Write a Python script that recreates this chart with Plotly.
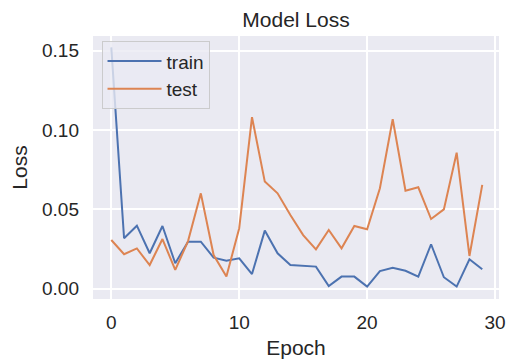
import plotly.graph_objects as go

epochs = list(range(30))
train_loss = [0.152, 0.0317, 0.0396, 0.0222, 0.0394, 0.0159, 0.0295, 0.0295, 0.0194, 0.0175,
              0.0190, 0.0091, 0.0365, 0.0222, 0.0148, 0.0142, 0.0138, 0.0016, 0.0075, 0.0075,
              0.0012, 0.0110, 0.0131, 0.0112, 0.0075, 0.0279, 0.0071, 0.0012, 0.0184, 0.0121]
test_loss = [0.0306, 0.0216, 0.0253, 0.0148, 0.0312, 0.0117, 0.0299, 0.0600, 0.0211, 0.0075,
             0.0380, 0.1080, 0.0674, 0.0600, 0.0463, 0.0337, 0.0247, 0.0369, 0.0253, 0.0394,
             0.0373, 0.0632, 0.1067, 0.0617, 0.0638, 0.0438, 0.0499, 0.0856, 0.0205, 0.0653]
x_ticks = [0, 10, 20, 30]
y_ticks = [0.00, 0.05, 0.10, 0.15]
y_tick_labels = ["0.00", "0.05", "0.10", "0.15"]

FONT = "Arial, Liberation Sans, Helvetica, sans-serif"
TXT = "#262626"

fig = go.Figure()
fig.add_trace(go.Scatter(x=epochs, y=train_loss, mode="lines", name="train",
                         line=dict(color="#4c72b0", width=2)))
fig.add_trace(go.Scatter(x=epochs, y=test_loss, mode="lines", name="test",
                         line=dict(color="#dd8452", width=2)))

fig.update_layout(
    width=510, height=359,
    margin=dict(l=93, r=11, t=36, b=60, autoexpand=False),
    paper_bgcolor="white",
    plot_bgcolor="#eaeaf2",
    font=dict(family=FONT, color=TXT, size=19),
    title=dict(text="Model Loss", x=0.5, xref="paper", xanchor="center",
               y=1 - 19.5 / 359, yref="container", yanchor="middle",
               font=dict(size=21, color=TXT)),
    legend=dict(x=0.021, y=0.98, xanchor="left", yanchor="top",
                bgcolor="rgba(234,234,242,0.8)", bordercolor="rgba(200,200,200,0.9)",
                borderwidth=1, font=dict(size=19, color=TXT), itemwidth=54,
                tracegroupgap=0),
    showlegend=True,
)
fig.update_xaxes(range=[-1.43, 30.31], tickvals=x_ticks, showgrid=True, gridcolor="white",
                 gridwidth=1.5, zeroline=False, showline=False, ticks="", automargin=False,
                 ticklabelstandoff=10, tickfont=dict(size=19, color=TXT),
                 title=dict(text="Epoch", font=dict(size=21, color=TXT), standoff=11))
fig.update_yaxes(range=[-0.00662, 0.1592], tickvals=y_ticks, ticktext=y_tick_labels,
                 showgrid=True, gridcolor="white", gridwidth=1.5, zeroline=False,
                 showline=False, ticks="", ticklabelstandoff=13, automargin=False,
                 tickfont=dict(size=19, color=TXT),
                 title=dict(text="Loss", font=dict(size=21, color=TXT), standoff=8))

fig.write_html(
    "out.html",
    config={"displayModeBar": False},
    post_script="document.documentElement.style.margin='0';"
                "document.body.style.margin='0';document.body.style.overflow='hidden';",
)
